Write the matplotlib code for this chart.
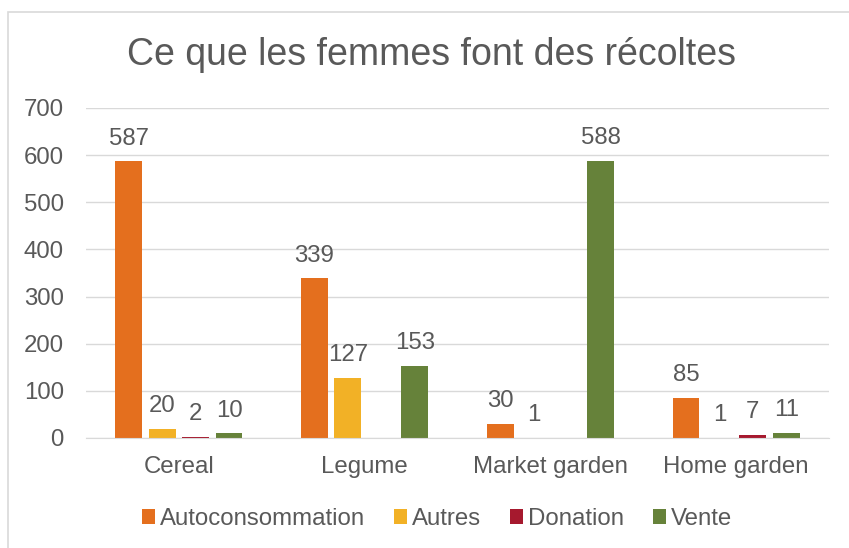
import numpy as np
import matplotlib
matplotlib.use("Agg")
import matplotlib.pyplot as plt
from matplotlib.patches import Rectangle

plt.rcParams['font.family'] = ['Liberation Sans', 'DejaVu Sans']

categories = ['Cereal', 'Legume', 'Market garden', 'Home garden']
series = ['Autoconsommation', 'Autres', 'Donation', 'Vente']
autoconsommation = [587, 339, 30, 85]
autres = [20, 127, 1, 1]
donation = [2, np.nan, np.nan, 7]
vente = [10, 153, 588, 11]
colors = ['#E46F1E', '#F2B126', '#A6192E', '#66823A']

values = [autoconsommation, autres, donation, vente]
text_col = '#595959'
grid_col = '#D9D9D9'
fs = 17.3

fig = plt.figure(figsize=(8.49, 5.48), dpi=100)
ax = fig.add_axes([86 / 849, 1 - 438 / 548, (829 - 86) / 849, (438 - 108) / 548])

x = np.arange(len(categories))
pitch, width = 0.18, 0.145
for i, (name, vals, c) in enumerate(zip(series, values, colors)):
    xs = x + (i - 1.5) * pitch
    ax.bar(xs, vals, width=width, color=c, label=name, zorder=3)
    for xi, v in zip(xs, vals):
        if np.isnan(v):
            continue
        ax.annotate(f'{v:g}', (xi, v), xytext=(0, 12), textcoords='offset points',
                    ha='center', va='baseline', fontsize=fs, color=text_col)

ax.set_xlim(-0.5, len(categories) - 0.5)
ax.set_ylim(0, 700)
ax.set_yticks(range(0, 701, 100))
ax.set_xticks(x)
ax.set_xticklabels(categories)
ax.yaxis.grid(True, color=grid_col, lw=1, zorder=0)
ax.tick_params(axis='both', length=0, labelsize=fs, labelcolor=text_col)
ax.tick_params(axis='y', pad=16)
ax.tick_params(axis='x', pad=13)
for s in ['top', 'right', 'left']:
    ax.spines[s].set_visible(False)
ax.spines['bottom'].set_color(grid_col)
ax.spines['bottom'].set_zorder(4)

fig.text(431 / 849, 1 - 55 / 548, 'Ce que les femmes font des récoltes',
         ha='center', va='center', fontsize=27, color=text_col)

fig.legend(loc='center', bbox_to_anchor=(437 / 849, 1 - 519 / 548), ncol=4,
           frameon=False, fontsize=fs, handlelength=0.55, handleheight=0.55,
           handletextpad=0.2, columnspacing=1.2, labelcolor=text_col)

fig.add_artist(Rectangle((8 / 849, -0.1), 1.2, (548 - 12) / 548 + 0.1,
                         transform=fig.transFigure, fill=False,
                         edgecolor=grid_col, lw=1.2))

fig.savefig('out.png', dpi=100)
